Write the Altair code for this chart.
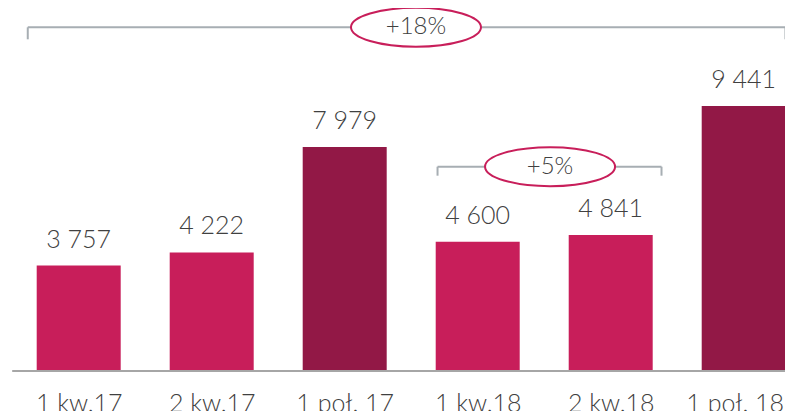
import altair as alt
import pandas as pd

# ---- data -------------------------------------------------------------
categories = ["1 kw.17", "2 kw.17", "1 poł. 17", "1 kw.18", "2 kw.18", "1 poł. 18"]
values = [3757, 4222, 7979, 4600, 4841, 9441]
value_labels = ["3 757", "4 222", "7 979", "4 600", "4 841", "9 441"]
period_kind = ["kwartał", "kwartał", "półrocze", "kwartał", "kwartał", "półrocze"]

growth_labels = ["+18%", "+5%"]
bracket_from = [-0.383, 2.698]      # x position (category index units)
bracket_to = [5.314, 4.382]
bracket_level = [12243, 7277]       # y value of the bracket line
bracket_drop = [11815, 6957]        # y value where the end ticks stop
growth_center = [2.536, 3.544]

FONT = "Lato"
WEIGHT = 300
TXT = "#404040"
PINK = "#C81E5A"
MAROON = "#921846"
GRAY = "#A7AEB3"

bars_df = pd.DataFrame({
    "idx": list(range(len(categories))),
    "cat": categories,
    "value": values,
    "label": value_labels,
    "kind": period_kind,
})

seg_rows = []
for i in range(len(growth_labels)):
    seg_rows.append({"x": bracket_from[i], "x2": bracket_to[i], "y": bracket_level[i], "y2": bracket_level[i]})
    seg_rows.append({"x": bracket_from[i], "x2": bracket_from[i], "y": bracket_level[i], "y2": bracket_drop[i]})
    seg_rows.append({"x": bracket_to[i], "x2": bracket_to[i], "y": bracket_level[i], "y2": bracket_drop[i]})
seg_df = pd.DataFrame(seg_rows)

growth_df = pd.DataFrame({"x": growth_center, "y": bracket_level, "label": growth_labels})
base_df = pd.DataFrame({"x": [-0.50], "x2": [5.37], "y": [0]})

label_expr = "[" + ",".join("'" + c + "'" for c in categories) + "][datum.value]"
last_idx = len(categories) - 1

xscale = alt.Scale(domain=[-0.5316, 5.3105], nice=False, zero=False, padding=0)
yscale = alt.Scale(domain=[0, 12930], nice=False, zero=True, padding=0)

bars = alt.Chart(bars_df).mark_bar(size=84).encode(
    x=alt.X("idx:Q", scale=xscale,
            axis=alt.Axis(values=list(range(len(categories))), labelExpr=label_expr,
                          domain=False, ticks=False, tickSize=0, grid=False, title=None,
                          labelFontSize=25, labelFont=FONT, labelFontWeight=WEIGHT, labelColor=TXT,
                          labelPadding=40, labelBaseline="alphabetic",
                          labelOffset={"condition": {"test": f"datum.value == {last_idx}", "value": -9},
                                       "value": 0},
                          labelFlush=False, labelOverlap=False, labelBound=False)),
    y=alt.Y("value:Q", scale=yscale, axis=None),
    color=alt.Color("kind:N", scale=alt.Scale(domain=["kwartał", "półrocze"], range=[PINK, MAROON]),
                    legend=None),
)

value_text = alt.Chart(bars_df).mark_text(
    dy=-18, baseline="alphabetic", fontSize=25, font=FONT, fontWeight=WEIGHT, color=TXT
).encode(
    x=alt.X("idx:Q", scale=xscale),
    y=alt.Y("value:Q", scale=yscale),
    text="label:N",
)

baseline = alt.Chart(base_df).mark_rule(color="#A6A6A6", strokeWidth=2).encode(
    x=alt.X("x:Q", scale=xscale), x2="x2:Q", y=alt.Y("y:Q", scale=yscale)
)

brackets = alt.Chart(seg_df).mark_rule(color=GRAY, strokeWidth=2).encode(
    x=alt.X("x:Q", scale=xscale), x2="x2:Q",
    y=alt.Y("y:Q", scale=yscale), y2="y2:Q",
)

ellipse_path = "M -1 0 A 1 0.3 0 1 1 1 0 A 1 0.3 0 1 1 -1 0 Z"
ellipses = alt.Chart(growth_df).mark_point(
    shape=ellipse_path, size=130 * 130, filled=True, fill="white", stroke=PINK,
    strokeWidth=2, opacity=1, fillOpacity=1, strokeOpacity=1
).encode(
    x=alt.X("x:Q", scale=xscale), y=alt.Y("y:Q", scale=yscale)
)

growth_text = alt.Chart(growth_df).mark_text(
    baseline="middle", fontSize=24, font=FONT, fontWeight=WEIGHT, color=TXT
).encode(
    x=alt.X("x:Q", scale=xscale), y=alt.Y("y:Q", scale=yscale), text="label:N"
)

chart = alt.layer(bars, value_text, baseline, brackets, ellipses, growth_text).properties(
    width=777, height=363,
    autosize=alt.AutoSizeParams(type="none"),
    padding={"left": 0, "top": 0, "right": 0, "bottom": 40},
    background="white",
).configure_view(stroke=None)

chart.save("out.html", embed_options={"renderer": "svg", "actions": False})
